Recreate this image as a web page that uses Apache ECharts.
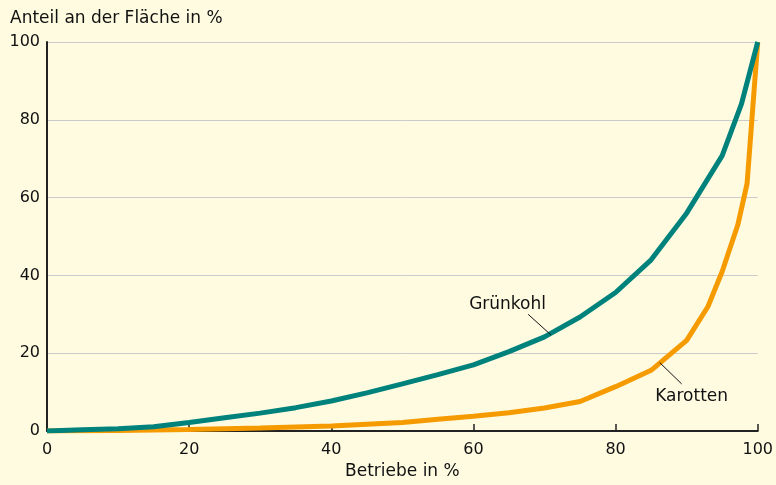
<!DOCTYPE html>
<html>
<head>
<meta charset="utf-8">
<script src="https://cdn.jsdelivr.net/npm/echarts@6/dist/echarts.min.js"></script>
<style>
html,body{margin:0;padding:0;background:#fefbe1;}
#main{width:776px;height:485px;}
</style>
</head>
<body>
<div id="main"></div>
<script>
// Data
const xTicks = [0, 20, 40, 60, 80, 100];
const gruenkohlX = [0, 5, 10, 15, 20, 25, 30, 35, 40, 45, 50, 55, 60, 65, 70, 75, 80, 85, 90, 95, 97.7, 100];
const gruenkohlY = [0, 0.3, 0.6, 1.1, 2.2, 3.4, 4.6, 6.0, 7.7, 9.8, 12.1, 14.5, 17.0, 20.4, 24.2, 29.3, 35.6, 44.0, 56.0, 70.8, 84.0, 100];
const karottenX = [0, 10, 20, 30, 40, 50, 55, 60, 65, 70, 75, 80, 85, 90, 93, 95, 97.2, 98.5, 100];
const karottenY = [0, 0.1, 0.4, 0.8, 1.3, 2.2, 3.0, 3.8, 4.7, 5.9, 7.6, 11.4, 15.6, 23.3, 32.0, 41.0, 53.0, 63.6, 100];
const labelGruenkohl = {text: 'Grünkohl', at: [64.8, 32.5], line: [[67.7, 30.0], [70.9, 24.7]]};
const labelKarotten = {text: 'Karotten', at: [90.7, 8.9], line: [[86.2, 17.6], [89.3, 12.1]]};

const pairs = (xs, ys) => xs.map((x, i) => [x, ys[i]]);
const font = '"DejaVu Sans", Verdana, sans-serif';
const chart = echarts.init(document.getElementById('main'));
chart.setOption({
  backgroundColor: '#fefbe1',
  animation: false,
  title: {
    text: 'Anteil an der Fläche in %',
    left: 5, top: 5,
    textStyle: {fontFamily: font, fontSize: 17, fontWeight: 'normal', color: '#111'}
  },
  grid: {left: 47, right: 17, top: 42, bottom: 50},
  xAxis: {
    type: 'value', min: 0, max: 100, interval: 20,
    name: 'Betriebe in %', nameLocation: 'middle', nameGap: 32,
    nameTextStyle: {fontFamily: font, fontSize: 17, color: '#111'},
    axisLine: {show: true, lineStyle: {color: '#222', width: 2}},
    axisTick: {show: true, inside: true, length: 7, lineStyle: {color: '#222', width: 1.5}},
    axisLabel: {fontFamily: font, fontSize: 16, color: '#111', margin: 11,
      formatter: v => xTicks.includes(v) ? String(v) : ''},
    splitLine: {show: false}
  },
  yAxis: {
    type: 'value', min: 0, max: 100, interval: 20,
    axisLine: {show: true, lineStyle: {color: '#222', width: 2}},
    axisTick: {show: false},
    axisLabel: {fontFamily: font, fontSize: 16, color: '#111', margin: 7},
    splitLine: {show: true, lineStyle: {color: '#cbcbcb', width: 1}}
  },
  series: [
    {
      name: 'Karotten', type: 'line', data: pairs(karottenX, karottenY),
      symbol: 'none', lineStyle: {color: '#f59b00', width: 5}, z: 3,
      markLine: {
        silent: true, symbol: 'none', animation: false,
        lineStyle: {color: '#111', width: 1, type: 'solid', opacity: 1},
        label: {show: false},
        data: [[{coord: labelKarotten.line[0]}, {coord: labelKarotten.line[1]}]]
      }
    },
    {
      name: 'Grünkohl', type: 'line', data: pairs(gruenkohlX, gruenkohlY),
      symbol: 'none', lineStyle: {color: '#00827c', width: 5}, z: 4,
      markLine: {
        silent: true, symbol: 'none', animation: false,
        lineStyle: {color: '#111', width: 1, type: 'solid', opacity: 1},
        label: {show: false},
        data: [[{coord: labelGruenkohl.line[0]}, {coord: labelGruenkohl.line[1]}]]
      }
    },
    {
      type: 'scatter', symbolSize: 0, silent: true, z: 5,
      itemStyle: {opacity: 1},
      data: [
        {value: labelGruenkohl.at, label: {show: true, formatter: labelGruenkohl.text}},
        {value: labelKarotten.at, label: {show: true, formatter: labelKarotten.text}}
      ],
      label: {position: 'inside', fontFamily: font, fontSize: 17, color: '#111', opacity: 1}
    }
  ]
});
</script>
</body>
</html>
